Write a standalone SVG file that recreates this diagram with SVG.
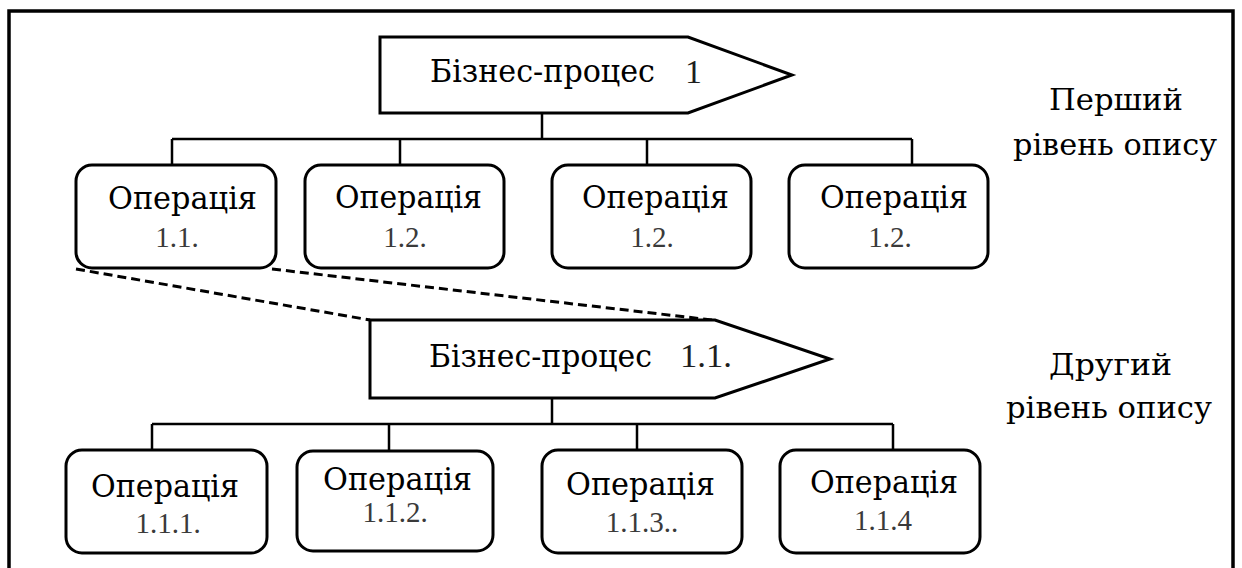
<svg xmlns="http://www.w3.org/2000/svg" width="1242" height="568" viewBox="0 0 1242 568">
  <style>
    .frame { fill: none; stroke: #000; stroke-width: 3.5; }
    .proc { fill: #fff; stroke: #000; stroke-width: 3; stroke-linejoin: miter; }
    .op { fill: #fff; stroke: #000; stroke-width: 3; }
    .link { fill: none; stroke: #000; stroke-width: 2.5; }
    .dash { fill: none; stroke: #000; stroke-width: 3; stroke-dasharray: 9 5; }
    .t { font-family: "DejaVu Serif", "Liberation Serif", serif; font-size: 31px; fill: #000; }
    .n { font-family: "Liberation Serif", "DejaVu Serif", serif; font-size: 29px; fill: #3a3a3a; text-anchor: middle; }
    .pn { font-family: "Liberation Serif", "DejaVu Serif", serif; font-size: 34px; fill: #1e1e1e; }
    .lbl { font-family: "DejaVu Serif", "Liberation Serif", serif; font-size: 30px; fill: #000; }
  </style>
  <rect width="1242" height="568" fill="#fff"/>
  <rect class="frame" x="9" y="11" width="1224" height="570"/>

  <g id="connectors">
    <path class="link" d="M542,113 V139 M172,139 H912 M172,139 V165 M400,139 V165 M647,139 V165 M912,139 V165"/>
    <path class="link" d="M552,398 V424 M152,424 H893 M152,424 V450 M389,424 V450 M637,424 V450 M893,424 V450"/>
    <path class="dash" d="M76,269 L370,320"/>
    <path class="dash" d="M272,269 L712,320"/>
  </g>

  <g id="process-1">
    <path class="proc" d="M380,37 H688 L792,75 L688,113 H380 Z"/>
    <text class="t" x="430" y="82" textLength="225" lengthAdjust="spacingAndGlyphs">Бізнес-процес</text>
    <text class="pn" x="685" y="83">1</text>
  </g>

  <g id="op-1-1">
    <rect class="op" x="76" y="165" width="200" height="103" rx="16"/>
    <text class="t" x="108" y="209" textLength="149" lengthAdjust="spacingAndGlyphs">Операція</text>
    <text class="n" x="177" y="247">1.1.</text>
  </g>
  <g id="op-1-2">
    <rect class="op" x="305" y="165" width="199" height="103" rx="16"/>
    <text class="t" x="335" y="208" textLength="147" lengthAdjust="spacingAndGlyphs">Операція</text>
    <text class="n" x="405" y="247">1.2.</text>
  </g>
  <g id="op-1-3">
    <rect class="op" x="552" y="165" width="199" height="103" rx="16"/>
    <text class="t" x="582" y="208" textLength="147" lengthAdjust="spacingAndGlyphs">Операція</text>
    <text class="n" x="652" y="247">1.2.</text>
  </g>
  <g id="op-1-4">
    <rect class="op" x="789" y="165" width="199" height="103" rx="16"/>
    <text class="t" x="820" y="208" textLength="148" lengthAdjust="spacingAndGlyphs">Операція</text>
    <text class="n" x="890" y="247">1.2.</text>
  </g>

  <g id="level-1-label">
    <text class="lbl" x="1049" y="110" textLength="134" lengthAdjust="spacingAndGlyphs">Перший</text>
    <text class="lbl" x="1013" y="155" textLength="204" lengthAdjust="spacingAndGlyphs">рівень опису</text>
  </g>

  <g id="process-1-1">
    <path class="proc" d="M370,320 H715 L830,359 L715,398 H370 Z"/>
    <text class="t" x="429" y="367" textLength="223" lengthAdjust="spacingAndGlyphs">Бізнес-процес</text>
    <text class="pn" x="680" y="367" textLength="52" lengthAdjust="spacingAndGlyphs">1.1.</text>
  </g>

  <g id="op-1-1-1">
    <rect class="op" x="66" y="450" width="201" height="103" rx="16"/>
    <text class="t" x="91" y="497" textLength="148" lengthAdjust="spacingAndGlyphs">Операція</text>
    <text class="n" x="168" y="533">1.1.1.</text>
  </g>
  <g id="op-1-1-2">
    <rect class="op" x="297" y="451" width="196" height="100" rx="16"/>
    <text class="t" x="323" y="490" textLength="149" lengthAdjust="spacingAndGlyphs">Операція</text>
    <text class="n" x="395" y="522">1.1.2.</text>
  </g>
  <g id="op-1-1-3">
    <rect class="op" x="542" y="450" width="200" height="103" rx="16"/>
    <text class="t" x="566" y="495" textLength="149" lengthAdjust="spacingAndGlyphs">Операція</text>
    <text class="n" x="642" y="532">1.1.3..</text>
  </g>
  <g id="op-1-1-4">
    <rect class="op" x="780" y="450" width="200" height="103" rx="16"/>
    <text class="t" x="810" y="493" textLength="148" lengthAdjust="spacingAndGlyphs">Операція</text>
    <text class="n" x="883" y="530">1.1.4</text>
  </g>

  <g id="level-2-label">
    <text class="lbl" x="1049" y="375" textLength="123" lengthAdjust="spacingAndGlyphs">Другий</text>
    <text class="lbl" x="1006" y="418" textLength="206" lengthAdjust="spacingAndGlyphs">рівень опису</text>
  </g>
</svg>
